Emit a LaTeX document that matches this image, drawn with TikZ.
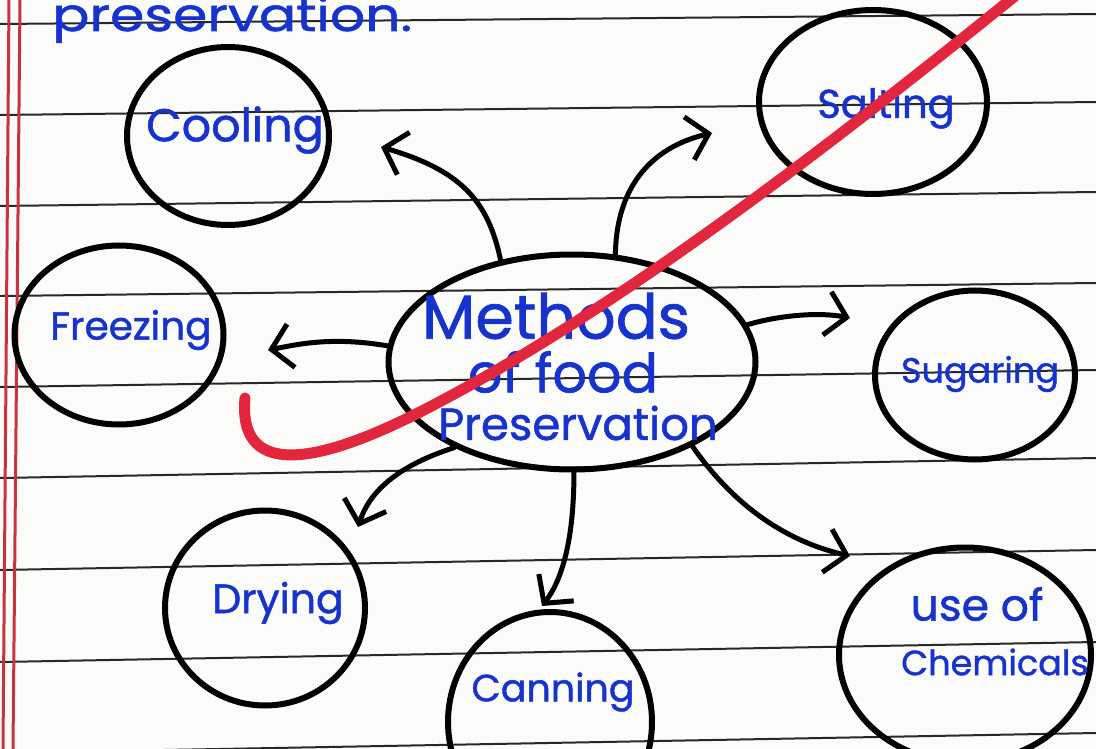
\documentclass[tikz,border=0pt]{standalone}
\usepackage{fontspec}
\setmainfont{Poppins}[FakeBold=1.2]
\usetikzlibrary{shapes.geometric,arrows.meta}

\definecolor{ink}{RGB}{22,52,205}
\definecolor{marker}{RGB}{226,38,62}
\definecolor{margin}{RGB}{200,52,62}
\definecolor{paper}{RGB}{251,251,249}
\definecolor{rule}{RGB}{40,40,40}

\newcommand{\hand}[1]{\fontsize{#1}{1.05\dimexpr#1pt\relax}\selectfont}

\tikzset{
  bubble/.style={draw, ellipse, line width=6pt, inner sep=0pt},
  word/.style={text=ink, inner sep=0pt, align=center},
  arr/.style={line width=5pt, line cap=round, line join=round,
    -{Straight Barb[length=20pt,width=44pt]}},
}

\begin{document}
\begin{tikzpicture}[x=1pt, y=-1pt]
  \useasboundingbox (0,0) rectangle (1096,749);
  \clip (0,0) rectangle (1096,749);
  \fill[paper] (0,0) rectangle (1096,749);

  % ruled paper
  \foreach \yl/\yr in {24/14, 115/102, 206/192, 296/283, 387/370, 478/458, 570/550, 662/642, 753/733}
    \draw[rule, line width=2pt] (0,\yl) -- (1096,\yr);
  \draw[margin, line width=3pt] (9,0) -- (3,749);
  \draw[margin, line width=3pt] (20,0) -- (13,749);

  % heading left over from the line above
  \node[word, anchor=base west, font=\hand{46}\addfontfeature{FakeStretch=1.2}] (head) at (52,31) {preservation.};

  % bubbles
  \node[bubble, minimum width=367pt, minimum height=215pt] (meth) at (572,362) {};
  \node[bubble, minimum width=202pt, minimum height=178pt] (cool) at (228,136) {};
  \node[bubble, minimum width=228pt, minimum height=184pt] (salt) at (873,102) {};
  \node[bubble, minimum width=209pt, minimum height=179pt] (frez) at (119,335) {};
  \node[bubble, minimum width=200pt, minimum height=169pt] (suga) at (975,375) {};
  \node[bubble, minimum width=200pt, minimum height=195pt] (dry) at (265,608) {};
  \node[bubble, minimum width=204pt, minimum height=220pt] (can) at (550,722) {};
  \node[bubble, minimum width=252pt, minimum height=215pt] (chem) at (965,655) {};

  % words
  \node[word, font=\hand{62}] (methA) at (556,316) {Methods};
  \node[word, font=\hand{54}] (methB) at (563,372) {of food};
  \node[word, font=\hand{45}] (methC) at (578,423) {Preservation};
  \node[word, font=\hand{46}] (coolTxt) at (235,130) {Cooling};
  \node[word, font=\hand{40}] (saltTxt) at (886,108) {Salting};
  \node[word, font=\hand{39}] (frezTxt) at (131,330) {Freezing};
  \node[word, font=\hand{35}] (sugaTxt) at (980,374) {Sugaring};
  \node[word, font=\hand{41}] (dryTxt) at (278,603) {Drying};
  \node[word, font=\hand{38}] (canTxt) at (553,692) {Canning};
  \node[word, font=\hand{44}] (chemA) at (977,604) {use of};
  \node[word, font=\hand{35}] (chemB) at (995,662) {Chemicals};

  % arrow tips
  \coordinate (tipCool) at (381,147);
  \coordinate (tipSalt) at (712,133);
  \coordinate (tipFrez) at (268,350);
  \coordinate (tipSuga) at (850,318);
  \coordinate (tipDry) at (358,527);
  \coordinate (tipCan) at (542,606);
  \coordinate (tipChem) at (850,556);

  \draw[arr] (meth.125) .. controls (488,200) and (460,170) .. (tipCool);
  \draw[arr] (meth.68) .. controls (616,200) and (640,150) .. (tipSalt);
  \draw[arr] (meth.175) .. controls (330,336) and (295,345) .. (tipFrez);
  \draw[arr] (meth.12) .. controls (780,315) and (820,312) .. (tipSuga);
  \draw[arr] (meth.216) .. controls (400,465) and (370,490) .. (tipDry);
  \draw[arr] (meth.271) .. controls (574,540) and (562,580) .. (tipCan);
  \draw[arr] (meth.325) .. controls (730,500) and (780,540) .. (tipChem);

  % red marker stroke over the page
  \draw[marker, line width=11pt, line cap=round]
    (245,398) .. controls (238,475) and (310,468) .. (420,412)
    .. controls (600,320) and (800,170) .. (1020,-8);
\end{tikzpicture}
\end{document}
